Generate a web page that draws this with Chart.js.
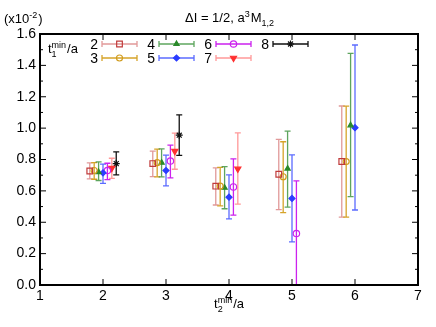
<!DOCTYPE html>
<html>
<head>
<meta charset="utf-8">
<script src="https://cdn.jsdelivr.net/npm/chart.js@4/dist/chart.umd.min.js"></script>
<style>
body { margin: 0; background: #fff; }
#wrap { width: 436px; height: 327px; }
</style>
</head>
<body>
<div id="wrap"><canvas id="chart"></canvas></div>
<script>
// t2_min/a positions and t1_min/a series
const t2Points = [2, 3, 4, 5, 6];
const t1Values = [2, 3, 4, 5, 6, 7, 8];
const xTickValues = [1, 2, 3, 4, 5, 6, 7];
const yTickValues = [0.0, 0.2, 0.4, 0.6, 0.8, 1.0, 1.2, 1.4, 1.6];

// a^3 M_{1,2} (x10^-2): central value, lower end, upper end of error bar
const m2   = [0.727, 0.774, 0.630, 0.706, 0.787];
const m2Lo = [0.676, 0.691, 0.510, 0.480, 0.433];
const m2Hi = [0.778, 0.853, 0.747, 0.928, 1.141];

const m3   = [0.730, 0.780, 0.630, 0.690, 0.787];
const m3Lo = [0.674, 0.689, 0.504, 0.461, 0.433];
const m3Hi = [0.780, 0.866, 0.750, 0.913, 1.140];

const m4   = [0.720, 0.780, 0.620, 0.742, 1.018];
const m4Lo = [0.666, 0.689, 0.486, 0.497, 0.563];
const m4Hi = [0.785, 0.868, 0.755, 0.981, 1.477];

const m5   = [0.715, 0.730, 0.560, 0.552, 1.003];
const m5Lo = [0.648, 0.632, 0.422, 0.275, 0.478];
const m5Hi = [0.770, 0.828, 0.702, 0.830, 1.530];

const m6   = [0.730, 0.790, 0.625, 0.328];
const m6Lo = [0.672, 0.683, 0.446, -0.010];
const m6Hi = [0.776, 0.892, 0.804, 0.664];

const m7   = [0.745, 0.853, 0.740];
const m7Lo = [0.680, 0.738, 0.515];
const m7Hi = [0.808, 0.968, 0.970];

const m8   = [0.774, 0.955];
const m8Lo = [0.702, 0.826];
const m8Hi = [0.849, 1.085];

const FONT = '"Liberation Sans", Arial, Helvetica, sans-serif';
const xShift = 0.07;

function makePoints(t1, vals, lo, hi) {
  return vals.map((v, i) => ({
    x: t2Points[i] + (t1 - 5) * xShift,
    y: v, lo: lo[i], hi: hi[i]
  }));
}

const styles = [
  { color: '#c03a3a', bar: 'rgba(200,70,70,0.55)', pointStyle: 'rect', radius: 4, fill: false },
  { color: '#d19c1d', bar: '#d6a42a', pointStyle: 'circle', radius: 3, fill: false },
  { color: '#2a8a2a', bar: 'rgba(40,135,40,0.75)', pointStyle: 'triangle', radius: 3, fill: true },
  { color: '#2a3cff', bar: 'rgba(50,70,255,0.8)', pointStyle: 'rectRot', radius: 3, fill: true },
  { color: '#cc22ee', bar: '#cc22ee', pointStyle: 'circle', radius: 3.2, fill: false },
  { color: '#ff3030', bar: 'rgba(255,70,70,0.55)', pointStyle: 'triangle', radius: 3.5, fill: true, rotation: 180 },
  { color: '#111', bar: '#111', pointStyle: 'star', radius: 3.5, fill: false }
];

const series = [
  makePoints(2, m2, m2Lo, m2Hi),
  makePoints(3, m3, m3Lo, m3Hi),
  makePoints(4, m4, m4Lo, m4Hi),
  makePoints(5, m5, m5Lo, m5Hi),
  makePoints(6, m6, m6Lo, m6Hi),
  makePoints(7, m7, m7Lo, m7Hi),
  makePoints(8, m8, m8Lo, m8Hi)
];

const datasets = series.map((pts, i) => {
  const s = styles[i];
  return {
    label: String(t1Values[i]),
    data: pts,
    showLine: false,
    pointStyle: s.pointStyle,
    pointRadius: s.radius,
    pointRotation: s.rotation || 0,
    borderColor: s.color,
    backgroundColor: s.fill ? s.color : 'rgba(0,0,0,0)',
    pointBorderWidth: 1.2,
    barColor: s.bar
  };
});

// draws text with ^sup and _sub parts
function richText(ctx, parts, x, y, align, size) {
  const small = Math.round(size * 0.72);
  const width = p => {
    if (typeof p === 'string') { ctx.font = size + 'px ' + FONT; return ctx.measureText(p).width; }
    ctx.font = small + 'px ' + FONT;
    return Math.max(p.sup ? ctx.measureText(p.sup).width : 0, p.sub ? ctx.measureText(p.sub).width : 0) + 1;
  };
  const total = parts.reduce((a, p) => a + width(p), 0);
  let cx = align === 'center' ? x - total / 2 : (align === 'right' ? x - total : x);
  ctx.textAlign = 'left';
  ctx.textBaseline = 'alphabetic';
  parts.forEach(p => {
    const w = width(p);
    if (typeof p === 'string') {
      ctx.font = size + 'px ' + FONT;
      ctx.fillText(p, cx, y);
    } else {
      ctx.font = small + 'px ' + FONT;
      if (p.sup) ctx.fillText(p.sup, cx, y - size * 0.42);
      if (p.sub) ctx.fillText(p.sub, cx, y + size * 0.28);
    }
    cx += w;
  });
}

const errorBars = {
  id: 'errorBars',
  beforeDatasetsDraw(chart) {
    const { ctx, chartArea: a, scales: { x, y } } = chart;
    ctx.save();
    ctx.beginPath();
    ctx.rect(a.left, a.top, a.right - a.left, a.bottom - a.top);
    ctx.clip();
    ctx.lineWidth = 1.3;
    chart.data.datasets.forEach(ds => {
      ctx.strokeStyle = ds.barColor;
      ds.data.forEach(p => {
        const px = x.getPixelForValue(p.x);
        const pl = y.getPixelForValue(p.lo);
        const ph = y.getPixelForValue(p.hi);
        ctx.beginPath();
        ctx.moveTo(px, pl); ctx.lineTo(px, ph);
        ctx.moveTo(px - 3, pl); ctx.lineTo(px + 3, pl);
        ctx.moveTo(px - 3, ph); ctx.lineTo(px + 3, ph);
        ctx.stroke();
      });
    });
    ctx.restore();
  }
};

const frame = {
  id: 'frame',
  afterDraw(chart) {
    const { ctx, chartArea: a, scales: { x, y } } = chart;
    ctx.save();
    ctx.strokeStyle = '#000';
    ctx.lineWidth = 1;
    ctx.beginPath();
    xTickValues.forEach(v => {
      const px = x.getPixelForValue(v);
      ctx.moveTo(px, a.bottom); ctx.lineTo(px, a.bottom - 6);
      ctx.moveTo(px, a.top); ctx.lineTo(px, a.top + 6);
    });
    yTickValues.forEach((v, i) => {
      const py = y.getPixelForValue(v);
      ctx.moveTo(a.left, py); ctx.lineTo(a.left + 6, py);
      ctx.moveTo(a.right, py); ctx.lineTo(a.right - 6, py);
      if (i < yTickValues.length - 1) {
        const pm = y.getPixelForValue((v + yTickValues[i + 1]) / 2);
        ctx.moveTo(a.left, pm); ctx.lineTo(a.left + 3, pm);
        ctx.moveTo(a.right, pm); ctx.lineTo(a.right - 3, pm);
      }
    });
    ctx.stroke();
    ctx.lineWidth = 2;
    ctx.strokeRect(a.left, a.top, a.right - a.left, a.bottom - a.top);

    ctx.fillStyle = '#000';
    richText(ctx, ['\u0394I = 1/2, a', { sup: '3' }, 'M', { sub: '1,2' }], 230, 22, 'center', 13);
    richText(ctx, ['(x10', { sup: '-2' }, ')'], 4, 23, 'left', 13);
    richText(ctx, ['t', { sup: 'min', sub: '2' }, '/a'], 229, 308, 'center', 13);
    ctx.restore();
  }
};

const legendBox = {
  id: 'legendBox',
  afterDraw(chart) {
    const { ctx } = chart;
    ctx.save();
    ctx.fillStyle = '#000';
    richText(ctx, ['t', { sup: 'min', sub: '1' }, '/a'], 48, 53, 'left', 13);
    chart.data.datasets.forEach((ds, i) => {
      const s = styles[i];
      const col = Math.floor(i / 2), row = i % 2;
      const x0 = 102 + col * 57, x1 = x0 + 35, yy = 44 + row * 14;
      ctx.fillStyle = '#000';
      ctx.font = '14px ' + FONT;
      ctx.textAlign = 'right';
      ctx.textBaseline = 'middle';
      ctx.fillText(ds.label, x0 - 4, yy + 1);
      ctx.strokeStyle = s.bar;
      ctx.lineWidth = 1.3;
      ctx.beginPath();
      ctx.moveTo(x0, yy); ctx.lineTo(x1, yy);
      ctx.moveTo(x0, yy - 3); ctx.lineTo(x0, yy + 3);
      ctx.moveTo(x1, yy - 3); ctx.lineTo(x1, yy + 3);
      ctx.stroke();
      ctx.strokeStyle = s.color;
      ctx.fillStyle = s.fill ? s.color : 'rgba(0,0,0,0)';
      ctx.lineWidth = 1.2;
      Chart.helpers.drawPoint(ctx, {
        pointStyle: s.pointStyle, radius: s.radius, rotation: s.rotation || 0, borderWidth: 1.2
      }, (x0 + x1) / 2, yy);
    });
    ctx.restore();
  }
};

new Chart(document.getElementById('chart'), {
  type: 'scatter',
  data: { datasets: datasets },
  options: {
    responsive: true,
    maintainAspectRatio: false,
    animation: false,
    layout: { padding: { top: 34, right: 18, left: 0, bottom: 0 } },
    plugins: {
      legend: { display: false },
      tooltip: { enabled: false }
    },
    scales: {
      x: {
        type: 'linear',
        min: 1, max: 7,
        afterFit(s) { s.height = 42; },
        afterBuildTicks(s) { s.ticks = xTickValues.map(v => ({ value: v })); },
        grid: { display: false, drawTicks: false },
        border: { display: false },
        ticks: {
          color: '#000',
          padding: 3,
          font: { family: FONT, size: 14 },
          callback: v => String(v)
        }
      },
      y: {
        min: 0, max: 1.6,
        afterFit(s) { s.width = 40; },
        afterBuildTicks(s) { s.ticks = yTickValues.map(v => ({ value: v })); },
        grid: { display: false, drawTicks: false },
        border: { display: false },
        ticks: {
          color: '#000',
          padding: 4,
          font: { family: FONT, size: 14 },
          callback: v => Number(v).toFixed(1)
        }
      }
    }
  },
  plugins: [errorBars, frame, legendBox]
});
</script>
</body>
</html>
